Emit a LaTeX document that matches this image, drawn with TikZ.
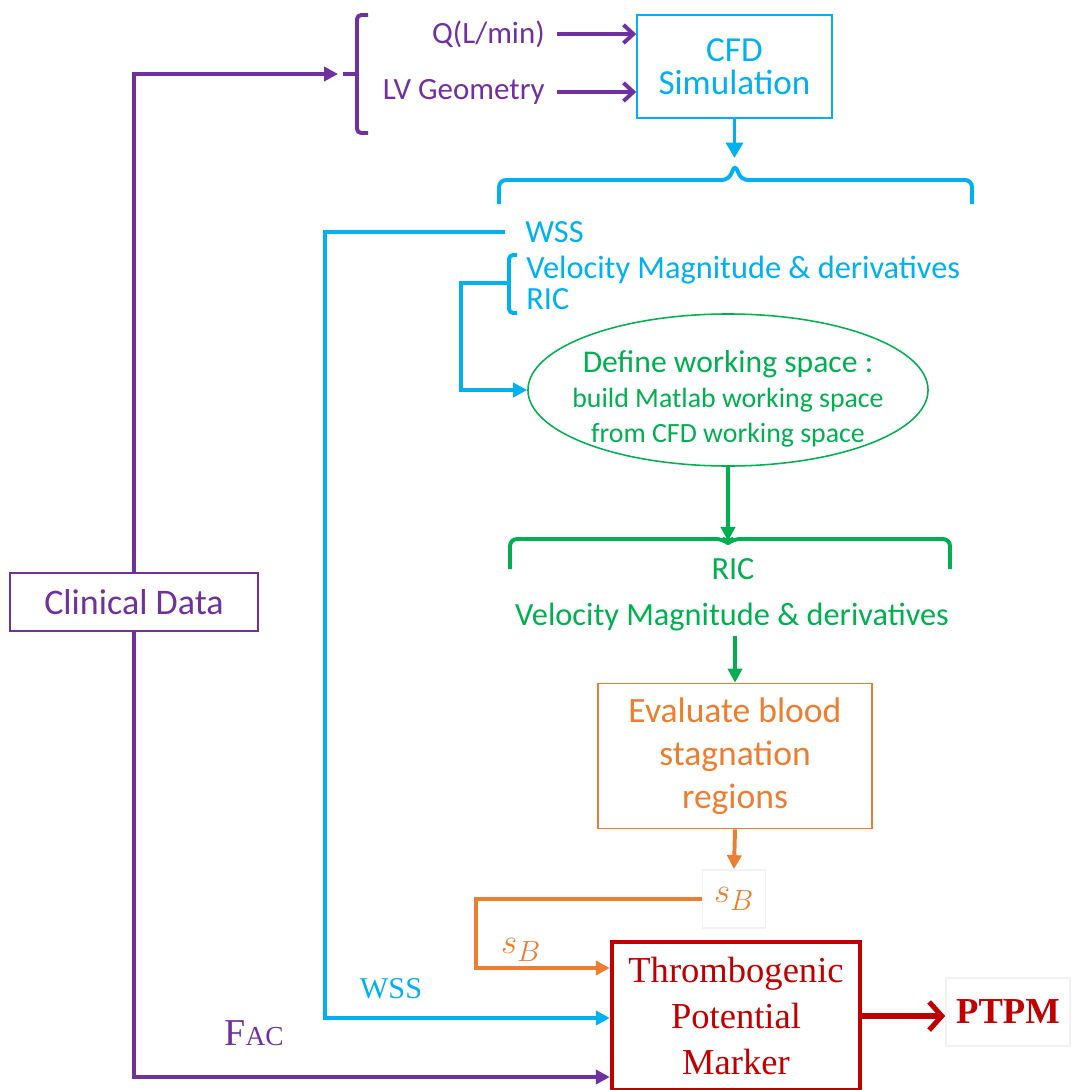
\documentclass[tikz,border=0pt]{standalone}
\usepackage{fontspec}
\setmainfont{Carlito}
\newfontfamily\tnr{Liberation Serif}
\usetikzlibrary{arrows.meta,shapes.geometric}

\definecolor{clinpurple}{HTML}{7030A0}
\definecolor{cfdblue}{HTML}{00B0F0}
\definecolor{wsgreen}{HTML}{00B050}
\definecolor{stagorange}{HTML}{ED7D31}
\definecolor{markred}{HTML}{C00000}

\newcommand{\setfs}[2]{\fontsize{#1}{#2}\selectfont}

\begin{document}
\begin{tikzpicture}[
    x=0.025cm, y=-0.025cm,
    thickln/.style={line width=2.8pt},
    thinln/.style={line width=1.1pt},
    tri/.style={-{Triangle[length=10pt,width=10pt]}},
    barb/.style={-{Straight Barb[length=7pt,width=13pt]}},
    box/.style={rectangle, draw, thinln, inner sep=0pt, align=center},
    lbl/.style={inner sep=0pt},
]
\useasboundingbox (0,0) rectangle (1071,1090);

% --- nodes ---
\node[box, draw=cfdblue, text=cfdblue, minimum width=4.875cm, minimum height=2.575cm,
      font=\setfs{25}{23.5}] (cfd) at (734.5,66.5) {CFD\\Simulation};
\node[lbl, anchor=east, text=clinpurple, font=\setfs{22}{22}] (qin) at (545,34) {Q(L/min)};
\node[lbl, anchor=east, text=clinpurple, font=\setfs{22}{22}] (lvin) at (545,92) {LV Geometry};

\node[box, draw=clinpurple, text=clinpurple, minimum width=6.2cm, minimum height=1.45cm,
      font=\setfs{25.6}{30}] (clin) at (134,602) {Clinical Data};

\node[lbl, anchor=west, text=cfdblue, font=\setfs{23}{23}] (wss) at (525,232) {WSS};
\node[lbl, anchor=west, align=left, text=cfdblue, font=\setfs{23}{22}] (vel) at (526,283)
      {Velocity Magnitude \& derivatives\\RIC};

\node[ellipse, draw=wsgreen, thinln, minimum width=10cm, minimum height=3.8cm,
      inner xsep=-12pt, inner ysep=-4pt,
      text=wsgreen, align=center, font=\setfs{19.8}{25}] (ws) at (728,390)
      {\rule{0pt}{28pt}{\setfs{22.5}{25}Define working space :}\\build Matlab working space\\from CFD working space};

\node[text=wsgreen, font=\setfs{23}{23}] (gric) at (733,569) {RIC};
\node[text=wsgreen, font=\setfs{23}{23}] (gvel) at (732,617) {Velocity Magnitude \& derivatives};

\node[box, draw=stagorange, text=stagorange, minimum width=6.85cm, minimum height=3.625cm,
      font=\setfs{25.3}{30.5}] (eval) at (735,756) {Evaluate blood\\stagnation\\regions};

\node[box, draw=black!5, thinln, text=stagorange, minimum width=1.575cm, minimum height=1.45cm,
      font=\setfs{28}{28}] (sb1) at (734,899) {$s_B$};
\node[lbl, text=stagorange, font=\setfs{28}{28}] (sb2) at (521,950) {$s_B$};

\node[box, draw=markred, line width=3pt, text=markred, minimum width=6.2cm, minimum height=3.7cm,
      font=\tnr\setfs{26}{32.7}] (red) at (736,1016) {Thrombogenic\\Potential\\Marker};
\node[box, draw=black!5, thinln, text=markred, minimum width=3.1cm, minimum height=1.7cm,
      font=\tnr\bfseries\setfs{26}{26}] (ptpm) at (1008,1012) {PTPM};

\node[lbl, text=cfdblue, font=\tnr\setfs{21.5}{21.5}] (wssb) at (391,989) {WSS};
\node[lbl, text=clinpurple, font=\tnr\setfs{27}{27}] (fac) at (254,1033)
      {F{\setfs{19.5}{19.5}AC}};

% --- helper coordinates ---
\coordinate (pnub) at (343,74);
\coordinate (btip) at (0,158);
\coordinate (vnub) at (509,283);
\coordinate (gtip) at (0,541);
\coordinate (sby) at (0,968);
\coordinate (wssy) at (0,1018);
\coordinate (facy) at (0,1077);

% --- purple: clinical data and inputs ---
\draw[clinpurple, thickln, rounded corners=3pt] (368,15) -- (357,15) -- (357,133) -- (368,133);
\draw[clinpurple, thickln] (pnub) -- (357,74);
\draw[clinpurple, thickln, tri, shorten >=3.5pt] (clin.north) |- (pnub);
\draw[clinpurple, thickln, tri] (clin.south) |- (red.west |- facy);
\draw[clinpurple, thickln, barb, shorten <=8.5pt] (qin.east) -- (qin.east -| cfd.west);
\draw[clinpurple, thickln, barb, shorten <=8.5pt] (lvin.east) -- (lvin.east -| cfd.west);

% --- blue: CFD outputs ---
\draw[cfdblue, thickln, -{Triangle[length=11pt,width=12pt]}] (cfd.south) -- (cfd.south |- btip);
\draw[cfdblue, thickln, rounded corners=5pt]
    (499,204) -- (499,180) -- (729,180) -- (735,164) -- (741,180) -- (972,180) -- (972,204);
\draw[cfdblue, thickln, tri, shorten <=14pt] (wss.west) -- ++(-200,0) |- (red.west |- wssy);
\draw[cfdblue, thickln, rounded corners=3pt] (517,255) -- (509,255) -- (509,313) -- (517,313);
\draw[cfdblue, thickln, tri] (vnub) -- ++(-48,0) |- (ws.west);

% --- green: working space ---
\draw[wsgreen, thickln, tri] (ws.south) -- (ws.south |- gtip);
\draw[wsgreen, thickln, rounded corners=5pt]
    (510,569) -- (510,539) -- (723,539) -- (728,543) -- (733,539) -- (950,539) -- (950,569);
\draw[wsgreen, thickln, tri] (eval.north |- gvel.south) -- (eval.north);

% --- orange: stagnation ---
\draw[stagorange, thickln, tri] (eval.south) -- (sb1.north);
\draw[stagorange, thickln, tri] (sb1.west) -- ++(-226,0) |- (red.west |- sby);

% --- red: marker ---
\draw[markred, line width=3.6pt, -{Straight Barb[length=9pt,width=20pt]}] (red.east) -- (red.east -| ptpm.west);

\end{tikzpicture}
\end{document}
